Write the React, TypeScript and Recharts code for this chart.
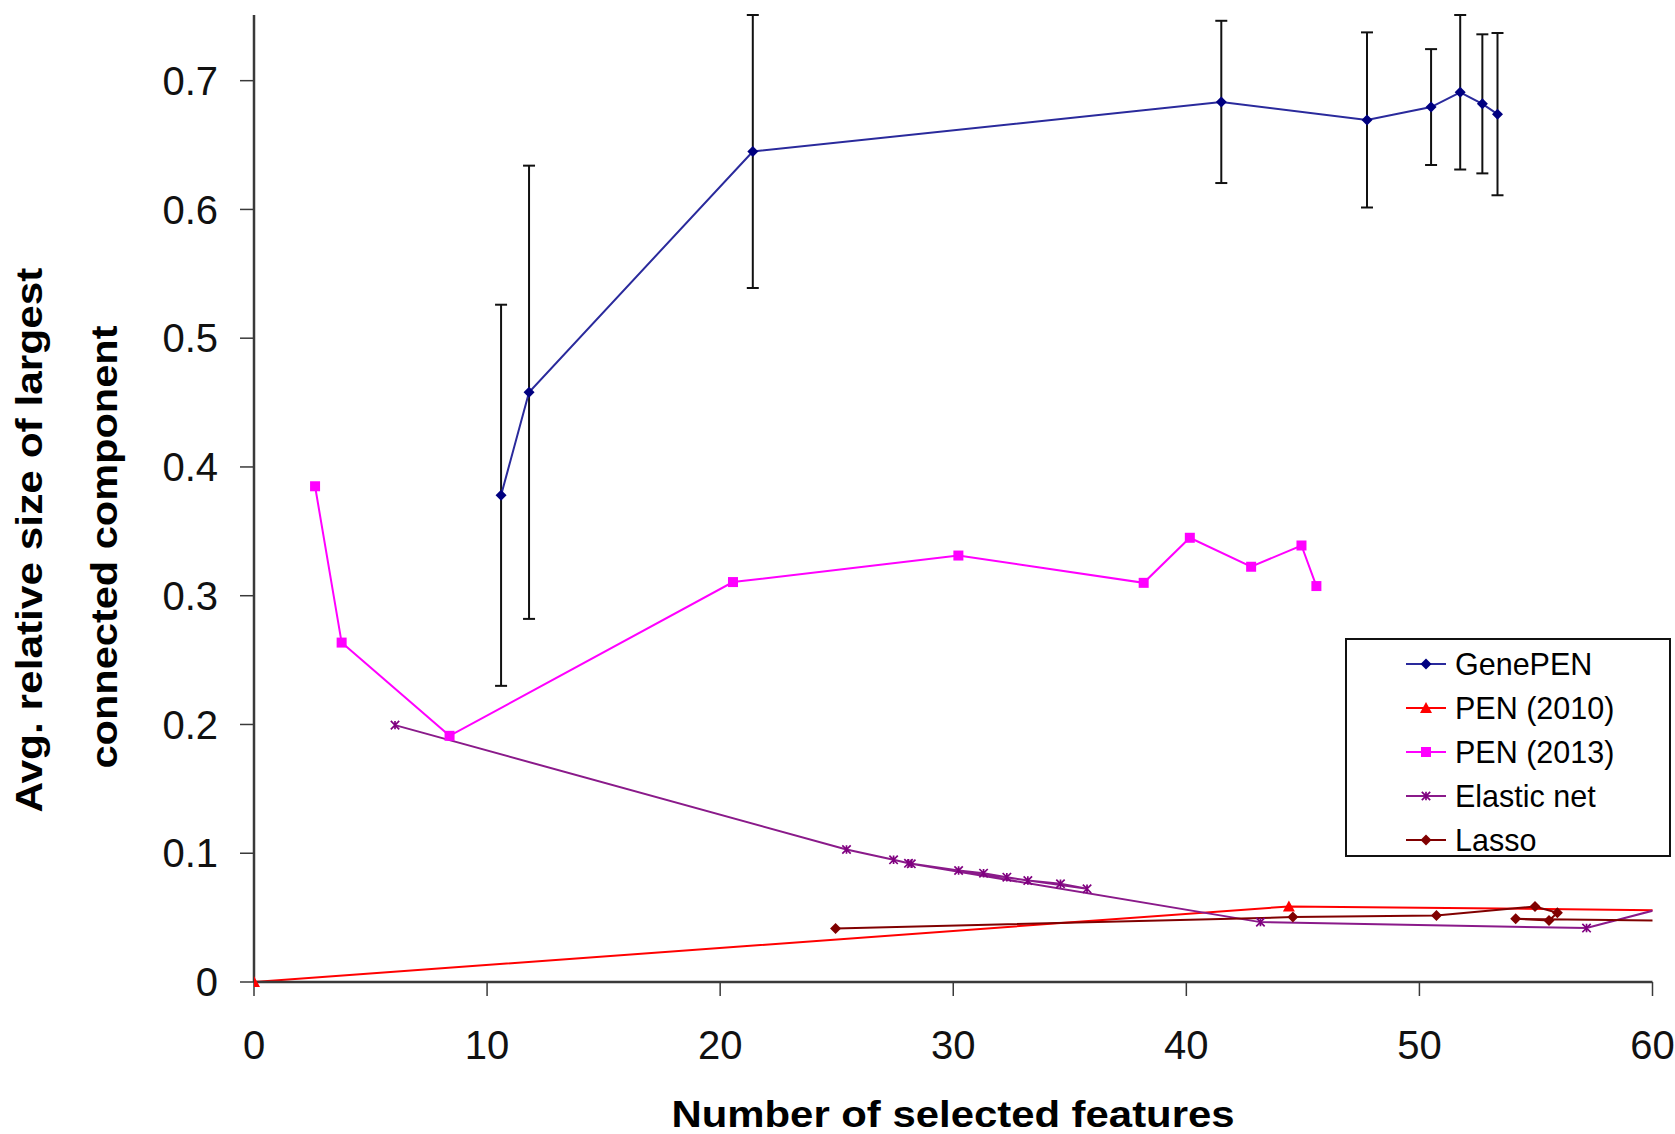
import React from "react";
import { ComposedChart, Line, XAxis, YAxis, ErrorBar, Legend, Label } from "recharts";

// values
const xTicks = [0, 10, 20, 30, 40, 50, 60];
const yTicks = [0, 0.1, 0.2, 0.3, 0.4, 0.5, 0.6, 0.7];

const genePenX = [10.6, 11.8, 21.4, 41.5, 47.75, 50.5, 51.75, 52.7, 53.35];
const genePenY = [0.378, 0.458, 0.645, 0.6835, 0.6695, 0.6795, 0.691, 0.682, 0.674];
const genePenErr = [0.148, 0.176, 0.106, 0.063, 0.068, 0.045, 0.06, 0.054, 0.063];

const pen2010X = [0, 44.4, 62];
const pen2010Y = [0, 0.0587, 0.0554];

const pen2013X = [2.62, 3.76, 8.39, 20.55, 30.22, 38.17, 40.15, 42.78, 44.94, 45.58];
const pen2013Y = [0.385, 0.2636, 0.1912, 0.3106, 0.3312, 0.31, 0.345, 0.3225, 0.339, 0.3075];

const elasticX = [6.05, 25.42, 27.44, 28.08, 30.23, 31.3, 32.3, 33.2, 34.6, 35.74, 28.2, 43.18, 57.17, 61];
const elasticY = [0.1995, 0.1029, 0.0949, 0.0922, 0.0866, 0.0845, 0.0814, 0.0788, 0.0763, 0.0724, 0.0918, 0.0465, 0.0419, 0.0601];

const lassoX = [24.95, 44.57, 50.73, 54.96, 55.92, 55.56, 54.13, 62];
const lassoY = [0.0415, 0.0504, 0.0517, 0.0587, 0.0538, 0.0478, 0.0491, 0.0474];

const seriesNames = ["GenePEN", "PEN (2010)", "PEN (2013)", "Elastic net", "Lasso"];

const toPoints = (xs: number[], ys: number[], errs?: number[]) =>
  xs.map((x, i) => ({ x, y: ys[i], err: errs ? errs[i] : 0 }));

const genePen = toPoints(genePenX, genePenY, genePenErr);
const pen2010 = toPoints(pen2010X, pen2010Y);
const pen2013 = toPoints(pen2013X, pen2013Y);
const elastic = toPoints(elasticX, elasticY);
const lasso = toPoints(lassoX, lassoY);

type Kind = "diamond" | "triangle" | "square" | "star";

const styles: { kind: Kind; line: string; fill: string }[] = [
  { kind: "diamond", line: "#2a2a9c", fill: "#000080" },
  { kind: "triangle", line: "#ff0000", fill: "#ff0000" },
  { kind: "square", line: "#ff00ff", fill: "#ff00ff" },
  { kind: "star", line: "#8a1a8a", fill: "#800080" },
  { kind: "diamond", line: "#800000", fill: "#800000" },
];

function marker(kind: Kind, cx: number, cy: number, color: string, key?: any) {
  if (kind === "diamond") {
    const r = 5.5;
    return <polygon key={key} points={`${cx},${cy - r} ${cx + r},${cy} ${cx},${cy + r} ${cx - r},${cy}`} fill={color} />;
  }
  if (kind === "triangle") {
    const r = 6;
    return <polygon key={key} points={`${cx},${cy - r} ${cx + r},${cy + r - 1} ${cx - r},${cy + r - 1}`} fill={color} />;
  }
  if (kind === "square") {
    return <rect key={key} x={cx - 5} y={cy - 5} width={10} height={10} fill={color} />;
  }
  const s = 4.2;
  return (
    <path
      key={key}
      d={`M${cx - s},${cy - s}L${cx + s},${cy + s}M${cx + s},${cy - s}L${cx - s},${cy + s}M${cx},${cy - s}L${cx},${cy + s}`}
      stroke={color}
      strokeWidth={1.7}
      fill="none"
    />
  );
}

const dotFor = (i: number) => (p: any) => {
  const { cx, cy, index } = p;
  if (cx == null || cy == null) return <g key={`e-${index}`} />;
  return marker(styles[i].kind, cx, cy, styles[i].fill, `m-${i}-${index}`);
};

const fontFamily = "'Liberation Sans', Arial, sans-serif";
const titleFont = "'Liberation Sans Narrow', 'Liberation Sans', Arial, sans-serif";

const LegendBox = () => (
  <div
    style={{
      width: 326,
      height: 219,
      boxSizing: "border-box",
      border: "2px solid #111",
      background: "#fff",
      paddingTop: 2,
      fontFamily,
      fontSize: 30.5,
      color: "#000",
    }}
  >
    {seriesNames.map((name, i) => (
      <div key={name} style={{ height: 44, display: "flex", alignItems: "center", paddingLeft: 59 }}>
        <svg width={40} height={20} style={{ display: "block" }}>
          <line x1={0} y1={10} x2={40} y2={10} stroke={styles[i].line} strokeWidth={2} />
          {marker(styles[i].kind, 20, 10, styles[i].fill)}
        </svg>
        <span style={{ marginLeft: 9, lineHeight: 1 }}>{name}</span>
      </div>
    ))}
  </div>
);

const YTitle = () => (
  <g>
    <text
      x={42}
      y={540}
      transform="rotate(-90 42 540)"
      textAnchor="middle"
      fontFamily={titleFont}
      fontWeight="bold"
      fontSize={37}
      textLength={545}
      lengthAdjust="spacingAndGlyphs"
      fill="#000"
    >
      Avg. relative size of largest
    </text>
    <text
      x={117}
      y={547}
      transform="rotate(-90 117 547)"
      textAnchor="middle"
      fontFamily={titleFont}
      fontWeight="bold"
      fontSize={37}
      textLength={443}
      lengthAdjust="spacingAndGlyphs"
      fill="#000"
    >
      connected component
    </text>
  </g>
);

const XTitle = () => (
  <text
    x={953}
    y={1127}
    textAnchor="middle"
    fontFamily={titleFont}
    fontWeight="bold"
    fontSize={37}
    textLength={563}
    lengthAdjust="spacingAndGlyphs"
    fill="#000"
  >
    Number of selected features
  </text>
);

export default function App() {
  const tick = { fill: "#111", fontSize: 40, fontFamily };
  const all = [genePen, pen2010, pen2013, elastic, lasso];
  return (
    <div style={{ position: "absolute", left: 0, top: 0, background: "#fff" }}>
      <ComposedChart width={1675} height={1134} margin={{ top: 15, right: 22.5, bottom: 72, left: 154 }}>
        <XAxis
          type="number"
          dataKey="x"
          domain={[0, 60]}
          ticks={xTicks}
          allowDataOverflow
          height={80}
          tickSize={14}
          tickMargin={35}
          tick={tick}
          axisLine={{ stroke: "#3a3a3a", strokeWidth: 2.5 }}
          tickLine={{ stroke: "#3a3a3a", strokeWidth: 1.5 }}
        >
          <Label content={() => <XTitle />} />
        </XAxis>
        <YAxis
          type="number"
          dataKey="y"
          domain={[0, 0.75]}
          ticks={yTicks}
          width={100}
          tickSize={14}
          tickMargin={22}
          tick={tick}
          axisLine={{ stroke: "#3a3a3a", strokeWidth: 2.5 }}
          tickLine={{ stroke: "#3a3a3a", strokeWidth: 1.5 }}
        >
          <Label content={() => <YTitle />} />
        </YAxis>
        <Legend
          layout="vertical"
          align="center"
          verticalAlign="middle"
          wrapperStyle={{ left: 1345, top: 638, width: 326, height: 219 }}
          content={() => <LegendBox />}
        />
        {all.map((d, i) => (
          <Line
            key={seriesNames[i]}
            name={seriesNames[i]}
            data={d}
            dataKey="y"
            type="linear"
            stroke={styles[i].line}
            strokeWidth={2}
            dot={dotFor(i)}
            activeDot={false}
            isAnimationActive={false}
          >
            {i === 0 ? (
              <ErrorBar dataKey="err" direction="y" width={6} stroke="#111" strokeWidth={2} />
            ) : null}
          </Line>
        ))}
      </ComposedChart>
    </div>
  );
}
